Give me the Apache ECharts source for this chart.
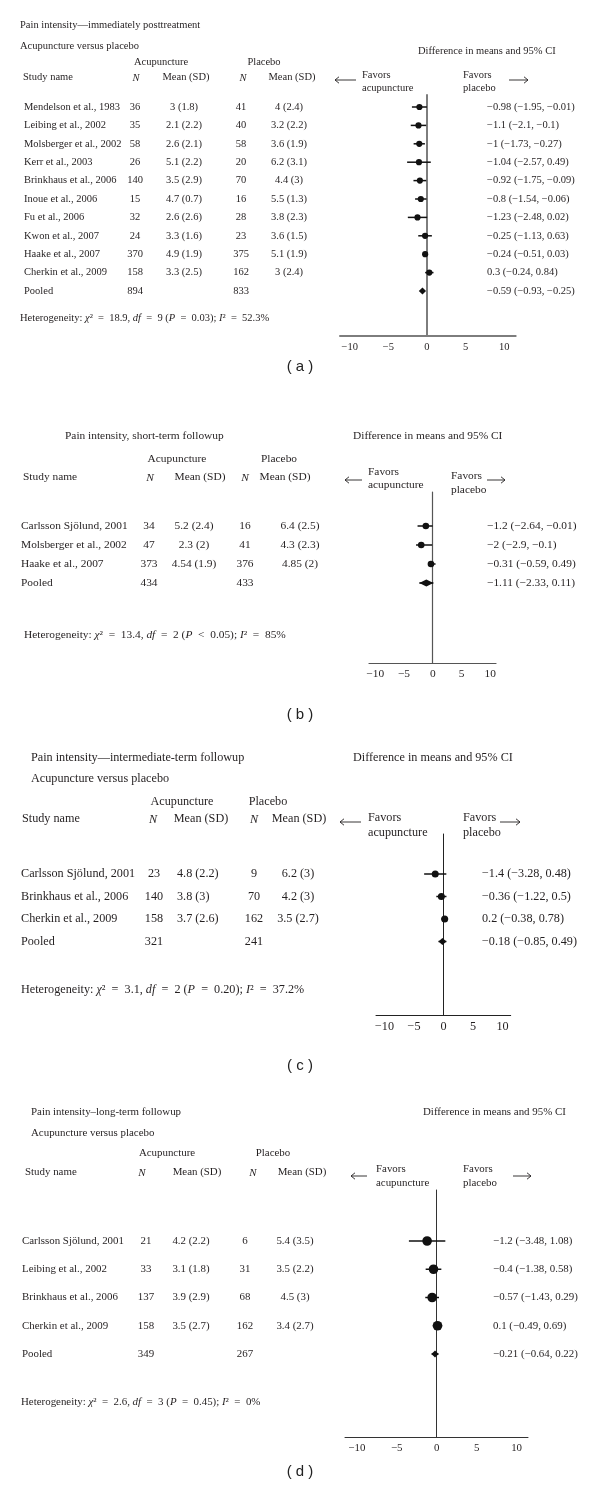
<!DOCTYPE html>
<html><head><meta charset="utf-8">
<script src="https://cdn.jsdelivr.net/npm/echarts@6/dist/echarts.min.js"></script>
<style>html,body{margin:0;padding:0;background:#fff}#c{width:600px;height:1506px}</style>
</head><body><div id="c"></div>
<script>
// ---------- Panel (a): immediately posttreatment ----------
const studiesA = ['Mendelson et al., 1983','Leibing et al., 2002','Molsberger et al., 2002','Kerr et al., 2003','Brinkhaus et al., 2006','Inoue et al., 2006','Fu et al., 2006','Kwon et al., 2007','Haake et al., 2007','Cherkin et al., 2009','Pooled'];
const acupNA = [36,35,58,26,140,15,32,24,370,158,894];
const acupMeanA = [3,2.1,2.6,5.1,3.5,4.7,2.6,3.3,4.9,3.3];
const acupSDA = [1.8,2.2,2.1,2.2,2.9,0.7,2.6,1.6,1.9,2.5];
const placNA = [41,40,58,20,70,16,28,23,375,162,833];
const placMeanA = [4,3.2,3.6,6.2,4.4,5.5,3.8,3.6,5.1,3];
const placSDA = [2.4,2.2,1.9,3.1,3,1.3,2.3,1.5,1.9,2.4];
const diffA = [-0.98,-1.1,-1,-1.04,-0.92,-0.8,-1.23,-0.25,-0.24,0.3,-0.59];
const lowA = [-1.95,-2.1,-1.73,-2.57,-1.75,-1.54,-2.48,-1.13,-0.51,-0.24,-0.93];
const highA = [-0.01,-0.1,-0.27,0.49,-0.09,-0.06,0.02,0.63,0.03,0.84,-0.25];

// ---------- Panel (b): short-term followup ----------
const studiesB = ['Carlsson Sjölund, 2001','Molsberger et al., 2002','Haake et al., 2007','Pooled'];
const acupNB = [34,47,373,434];
const acupMeanB = [5.2,2.3,4.54];
const acupSDB = [2.4,2,1.9];
const placNB = [16,41,376,433];
const placMeanB = [6.4,4.3,4.85];
const placSDB = [2.5,2.3,2];
const diffB = [-1.2,-2,-0.31,-1.11];
const lowB = [-2.64,-2.9,-0.59,-2.33];
const highB = [-0.01,-0.1,0.49,0.11];

// ---------- Panel (c): intermediate-term followup ----------
const studiesC = ['Carlsson Sjölund, 2001','Brinkhaus et al., 2006','Cherkin et al., 2009','Pooled'];
const acupNC = [23,140,158,321];
const acupMeanC = [4.8,3.8,3.7];
const acupSDC = [2.2,3,2.6];
const placNC = [9,70,162,241];
const placMeanC = [6.2,4.2,3.5];
const placSDC = [3,3,2.7];
const diffC = [-1.4,-0.36,0.2,-0.18];
const lowC = [-3.28,-1.22,-0.38,-0.85];
const highC = [0.48,0.5,0.78,0.49];

// ---------- Panel (d): long-term followup ----------
const studiesD = ['Carlsson Sjölund, 2001','Leibing et al., 2002','Brinkhaus et al., 2006','Cherkin et al., 2009','Pooled'];
const acupND = [21,33,137,158,349];
const acupMeanD = [4.2,3.1,3.9,3.5];
const acupSDD = [2.2,1.8,2.9,2.7];
const placND = [6,31,68,162,267];
const placMeanD = [5.4,3.5,4.5,3.4];
const placSDD = [3.5,2.2,3,2.7];
const diffD = [-1.2,-0.4,-0.57,0.1,-0.21];
const lowD = [-3.48,-1.38,-1.43,-0.49,-0.64];
const highD = [1.08,0.58,0.29,0.69,0.22];

// heterogeneity stats
const hetChi2 = [18.9,13.4,3.1,2.6];
const hetDf = [9,2,2,3];
const hetPop = ['=','<','=','='];
const hetP = ['0.03','0.05','0.20','0.45'];
const hetI2 = ['52.3','85','37.2','0'];

const titlesA = ['Pain intensity—immediately posttreatment','Acupuncture versus placebo'];
const titlesB = ['Pain intensity, short-term followup'];
const titlesC = ['Pain intensity—intermediate-term followup','Acupuncture versus placebo'];
const titlesD = ['Pain intensity–long-term followup','Acupuncture versus placebo'];
const panelLabels = ['a','b','c','d'];
const tickValues = [-10,-5,0,5,10];

// ---------- build ----------
const SERIF = '"Liberation Serif","DejaVu Serif",serif';
const TXT = '#231f20';
const SP = '\u2002';
function fmt(v){ return String(v).replace('-', '−'); }

const panels = [
 {studies:studiesA,an:acupNA,am:acupMeanA,asd:acupSDA,pn:placNA,pm:placMeanA,psd:placSDA,d:diffA,lo:lowA,hi:highA,titles:titlesA,
  L:{fs:10.5,left:340,width:175.7,top:95,height:240.3,xMin:-11.25,xMax:11.47,row0:107,step:18.4,
     titleX:20,titleY:[25,46],headY:62,acupX:161,placX:264,subY:77,subX:[136,186,243,292],studyX:23,
     nameX:24,nX:135,meanX:184,meanAlign:'center',pnX:241,pmX:289,hetX:20,hetY:318,
     diffX:418,diffY:51,favAX:362,favAY:[75,88],favPX:463,favPY:[75,88],arrL:[335,356,80],arrR:[509,528,80],
     ciX:487,labY:367,axisColor:'#7d7d7d',axisW:2,R:3.1,lw:1.5}},
 {studies:studiesB,an:acupNB,am:acupMeanB,asd:acupSDB,pn:placNB,pm:placMeanB,psd:placSDB,d:diffB,lo:lowB,hi:highB,titles:titlesB,
  L:{fs:11.4,left:369,width:127,top:492,height:171,xMin:-11.08,xMax:11.0,row0:526,step:19,
     titleX:65,titleY:[436],headY:459,acupX:177,placX:279,subY:477,subX:[150,200,245,285],studyX:23,
     nameX:21,nX:149,meanX:194,meanAlign:'center',pnX:245,pmX:300,hetX:24,hetY:635,
     diffX:353,diffY:436,favAX:368,favAY:[472,485],favPX:451,favPY:[476,490],arrL:[345,362,480],arrR:[487,505,480],
     ciX:487,labY:715,axisColor:'#555',axisW:1.2,R:3.3,lw:1.5}},
 {studies:studiesC,an:acupNC,am:acupMeanC,asd:acupSDC,pn:placNC,pm:placMeanC,psd:placSDC,d:diffC,lo:lowC,hi:highC,titles:titlesC,
  L:{fs:12.2,left:376,width:134.7,top:834,height:181,xMin:-11.44,xMax:11.39,row0:874,step:22.5,
     titleX:31,titleY:[758,779],headY:802,acupX:182,placX:268,subY:819,subX:[153,201,254,299],studyX:22,
     nameX:21,nX:154,meanX:177,meanAlign:'left',pnX:254,pmX:298,hetX:21,hetY:990,
     diffX:353,diffY:758,favAX:368,favAY:[818,833],favPX:463,favPY:[818,833],arrL:[340,361,822],arrR:[500,520,822],
     ciX:482,labY:1066,axisColor:'#222',axisW:1,R:3.5,lw:1.5}},
 {studies:studiesD,an:acupND,am:acupMeanD,asd:acupSDD,pn:placND,pm:placMeanD,psd:placSDD,d:diffD,lo:lowD,hi:highD,titles:titlesD,
  L:{fs:10.9,left:345,width:183,top:1190,height:247,xMin:-11.48,xMax:11.43,row0:1241,step:28.25,
     titleX:31,titleY:[1112,1133],headY:1153,acupX:167,placX:273,subY:1172,subX:[142,197,253,302],studyX:25,
     nameX:22,nX:146,meanX:191,meanAlign:'center',pnX:245,pmX:295,hetX:21,hetY:1402,
     diffX:423,diffY:1112,favAX:376,favAY:[1169,1183],favPX:463,favPY:[1169,1183],arrL:[351,367,1176],arrR:[513,531,1176],
     ciX:493,labY:1472,axisColor:'#333',axisW:1,R:4.8,lw:1.5}}
];

const grids=[], xAxes=[], yAxes=[], series=[], graphics=[];

function txt(x,y,text,fs,align,style){
  graphics.push({type:'text',x:x,y:y,silent:true,style:Object.assign({text:text,font:fs+'px '+SERIF,fill:TXT,textAlign:align||'left',textVerticalAlign:'middle'},style||{})});
}
function arrow(x1,x2,y,dir){
  graphics.push({type:'line',silent:true,shape:{x1:x1,y1:y,x2:x2,y2:y},style:{stroke:TXT,lineWidth:0.9}});
  const tip = dir<0?x1:x2, s = dir<0?1:-1;
  graphics.push({type:'polyline',silent:true,shape:{points:[[tip+s*4,y-3.2],[tip,y],[tip+s*4,y+3.2]]},style:{stroke:TXT,lineWidth:0.9,fill:null}});
}

panels.forEach((P,k)=>{
  const L=P.L, fs=L.fs;
  grids.push({left:L.left,top:L.top,width:L.width,height:L.height,outerBoundsMode:'none'});
  xAxes.push({gridIndex:k,type:'value',min:L.xMin,max:L.xMax,
    axisLine:{onZero:false,lineStyle:{color:L.axisColor,width:L.axisW}},
    axisTick:{show:false},splitLine:{show:false},
    axisLabel:{customValues:tickValues,margin:6,color:TXT,fontFamily:SERIF,fontSize:fs,formatter:v=>fmt(v)}});
  yAxes.push({gridIndex:k,type:'value',inverse:true,
    min:(L.top-L.row0)/L.step,max:(L.top+L.height-L.row0)/L.step,
    axisLine:{show:true,onZero:true,lineStyle:{color:L.axisColor,width:L.axisW}},
    axisTick:{show:false},axisLabel:{show:false},splitLine:{show:false}});
  const n=P.studies.length;
  const data=P.d.map((v,i)=>[v,P.lo[i],P.hi[i],i,i===n-1?1:0]);
  series.push({type:'custom',xAxisIndex:k,yAxisIndex:k,clip:false,encode:{x:[0,1,2],y:3},data:data,
    renderItem:(params,api)=>{
      const m=api.coord([api.value(0),api.value(3)]), l=api.coord([api.value(1),api.value(3)]), h=api.coord([api.value(2),api.value(3)]);
      const ch=[{type:'line',shape:{x1:l[0],y1:l[1],x2:h[0],y2:h[1]},style:{stroke:'#111',lineWidth:L.lw}}];
      if(api.value(4)){
        const lx=Math.min(l[0],m[0]-3.6), rx=Math.max(h[0],m[0]+3.6), hh=3.4;
        ch.push({type:'polygon',shape:{points:[[lx,m[1]],[m[0],m[1]-hh],[rx,m[1]],[m[0],m[1]+hh]]},style:{fill:'#111'}});
      } else {
        ch.push({type:'circle',shape:{cx:m[0],cy:m[1],r:L.R},style:{fill:'#111'}});
      }
      return {type:'group',children:ch};
    }});

  // titles
  P.titles.forEach((t,j)=>txt(L.titleX,L.titleY[j],t,fs));
  txt(L.diffX,L.diffY,'Difference in means and 95% CI',fs);
  // headers
  txt(L.acupX,L.headY,'Acupuncture',fs,'center');
  txt(L.placX,L.headY,'Placebo',fs,'center');
  txt(L.studyX,L.subY,'Study name',fs);
  txt(L.subX[0],L.subY+1,'N',fs,'center',{font:'italic '+fs+'px '+SERIF});
  txt(L.subX[1],L.subY,'Mean (SD)',fs,'center');
  txt(L.subX[2],L.subY+1,'N',fs,'center',{font:'italic '+fs+'px '+SERIF});
  txt(L.subX[3],L.subY,'Mean (SD)',fs,'center');
  // favors
  txt(L.favAX,L.favAY[0],'Favors',fs); txt(L.favAX,L.favAY[1],'acupuncture',fs);
  txt(L.favPX,L.favPY[0],'Favors',fs); txt(L.favPX,L.favPY[1],'placebo',fs);
  arrow(L.arrL[0],L.arrL[1],L.arrL[2],-1);
  arrow(L.arrR[0],L.arrR[1],L.arrR[2],1);
  // rows
  P.studies.forEach((s,i)=>{
    const y=L.row0+L.step*i;
    txt(L.nameX,y,s,fs);
    txt(L.nX,y,String(P.an[i]),fs,'center');
    txt(L.pnX,y,String(P.pn[i]),fs,'center');
    if(i<P.am.length){
      txt(L.meanX,y,P.am[i]+' ('+P.asd[i]+')',fs,L.meanAlign);
      txt(L.pmX,y,P.pm[i]+' ('+P.psd[i]+')',fs,'center');
    }
    txt(L.ciX,y,fmt(P.d[i])+' ('+fmt(P.lo[i])+', '+fmt(P.hi[i])+')',fs);
  });
  // heterogeneity
  const it='italic '+fs+'px '+SERIF, nf=fs+'px '+SERIF;
  graphics.push({type:'text',x:L.hetX,y:L.hetY,silent:true,style:{
    text:'{n|Heterogeneity: }{i|χ}{n|²'+SP+'='+SP+hetChi2[k]+', }{i|df}{n|'+SP+'='+SP+hetDf[k]+' (}{i|P}{n|'+SP+hetPop[k]+SP+hetP[k]+'); }{i|I}{n|²'+SP+'='+SP+hetI2[k]+'%}',
    textVerticalAlign:'middle',fill:TXT,font:nf,
    rich:{n:{font:nf,fill:TXT},i:{font:it,fill:TXT}}}});
  // panel label
  graphics.push({type:'text',x:300,y:L.labY,silent:true,style:{text:'( '+panelLabels[k]+' )',font:'15px "Liberation Sans","DejaVu Sans",sans-serif',fill:'#222',textAlign:'center',textVerticalAlign:'middle'}});
});

const chart = echarts.init(document.getElementById('c'),null,{renderer:'canvas'});
chart.setOption({animation:false,backgroundColor:'#fff',grid:grids,xAxis:xAxes,yAxis:yAxes,series:series,graphic:{elements:graphics}});
</script></body></html>
